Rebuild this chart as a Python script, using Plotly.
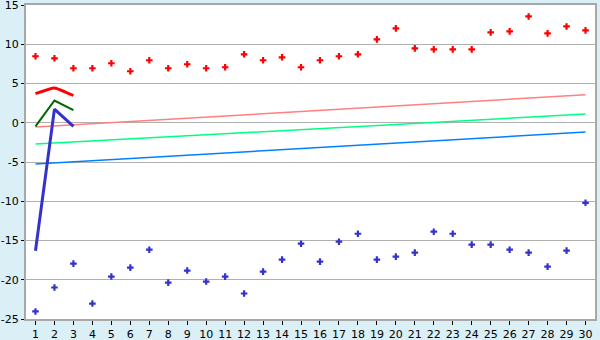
import plotly.graph_objects as go

categories = list(range(1, 31))
red_points = [8.47, 8.21, 6.94, 6.94, 7.58, 6.56, 7.96, 6.94, 7.45, 6.94,
              7.07, 8.72, 7.96, 8.34, 7.07, 7.96, 8.47, 8.72, 10.62, 12.02,
              9.48, 9.35, 9.35, 9.35, 11.51, 11.64, 13.54, 11.39, 12.27, 11.77]
blue_points = [-24.04, -20.99, -17.94, -23.03, -19.59, -18.45, -16.17, -20.36, -18.83, -20.23,
               -19.6, -21.75, -18.96, -17.44, -15.41, -17.69, -15.15, -14.14, -17.44, -17.06,
               -16.55, -13.88, -14.14, -15.53, -15.53, -16.17, -16.55, -18.33, -16.29, -10.2]
short_x = [1, 2, 3]
red_short = [3.72, 4.44, 3.47]
green_short = [-0.47, 2.83, 1.61]
blue_short = [-16.3, 1.74, -0.47]
trend_x = [1, 30]
trend_pink = [-0.55, 3.56]
trend_green = [-2.71, 1.1]
trend_blue = [-5.25, -1.18]
y_ticks = [-25, -20, -15, -10, -5, 0, 5, 10, 15]
y_tick_labels = ["-25", "-20", "-15", "-10", "-5", "0", "5", "10", "15"]

fig = go.Figure()
fig.add_trace(go.Scatter(x=trend_x, y=trend_pink, mode="lines",
                         line=dict(color="#ff8080", width=1.5)))
fig.add_trace(go.Scatter(x=trend_x, y=trend_green, mode="lines",
                         line=dict(color="#00ff80", width=1.5)))
fig.add_trace(go.Scatter(x=trend_x, y=trend_blue, mode="lines",
                         line=dict(color="#0080ff", width=1.5)))
fig.add_trace(go.Scatter(x=short_x, y=red_short, mode="lines",
                         line=dict(color="#ff0000", width=3, shape="spline", smoothing=0.4)))
fig.add_trace(go.Scatter(x=short_x, y=green_short, mode="lines",
                         line=dict(color="#006600", width=2)))
fig.add_trace(go.Scatter(x=short_x, y=blue_short, mode="lines",
                         line=dict(color="#3333cc", width=3)))
fig.add_trace(go.Scatter(x=categories, y=red_points, mode="markers",
                         marker=dict(symbol="cross", size=5.5, color="#ff0000", line=dict(width=0))))
fig.add_trace(go.Scatter(x=categories, y=blue_points, mode="markers",
                         marker=dict(symbol="cross", size=5.5, color="#3333cc", line=dict(width=0))))

fig.update_layout(
    width=600, height=340,
    margin=dict(l=26, r=5, t=5, b=21),
    paper_bgcolor="#daeff6",
    plot_bgcolor="#ffffff",
    showlegend=False,
    font=dict(family="DejaVu Sans", size=11, color="#000000"),
)
fig.update_xaxes(
    range=[0.5, 30.5], tickvals=categories, ticktext=[str(c) for c in categories],
    showgrid=False, zeroline=False, automargin=False, ticklabeloverflow="allow",
    ticks="outside", ticklen=4, tickcolor="#000000",
    showline=True, linecolor="#a8a8a8", linewidth=2, mirror=True,
    tickfont=dict(size=11),
)
fig.update_yaxes(
    range=[-25, 15], tickvals=y_ticks, ticktext=y_tick_labels,
    showgrid=True, gridcolor="#b0b0b0", gridwidth=1, zeroline=False, automargin=False,
    ticklabeloverflow="allow",
    ticks="outside", ticklen=3, tickcolor="#000000",
    showline=True, linecolor="#a8a8a8", linewidth=2, mirror=True,
    tickfont=dict(size=11),
)

fig.write_html("out.html")
